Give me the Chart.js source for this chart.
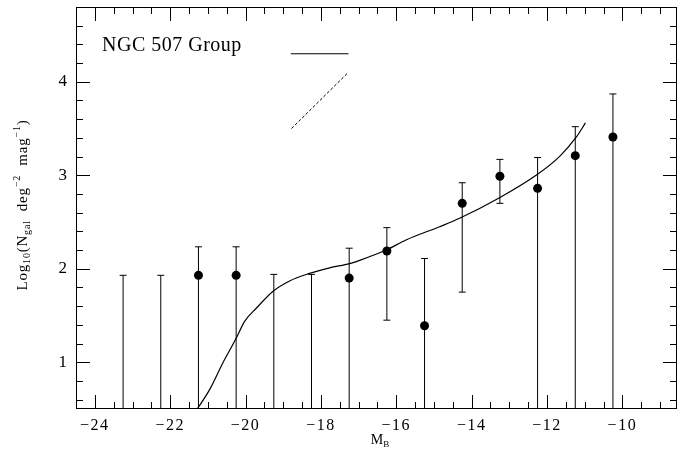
<!DOCTYPE html>
<html lang="en">
<head>
  <meta charset="UTF-8">
  <title>NGC 507 Group luminosity function</title>
  <script src="https://cdn.jsdelivr.net/npm/chart.js"></script>
  <style>
    html, body { margin: 0; padding: 0; background: #fff; }
    #lfChart { display: block; }
  </style>
</head>
<body>
  <canvas id="lfChart" width="677" height="450"></canvas>

  <script>
    // magnitude bins and measured log10 counts (null = no galaxies in the bin)
    const binCentres = [-23.25, -22.25, -21.25, -20.25, -19.25, -18.25, -17.25, -16.25, -15.25, -14.25, -13.25, -12.25, -11.25, -10.25];
    const logCounts  = [null, null, 1.93, 1.93, null, null, 1.90, 2.19, 1.39, 2.70, 2.99, 2.86, 3.21, 3.41];
    const errUpper   = [1.93, 1.93, 2.235, 2.235, 1.94, 1.94, 2.22, 2.44, 2.11, 2.92, 3.17, 3.19, 3.52, 3.87];
    // lower end of each bar; null = runs off the bottom of the plot
    const errLower   = [null, null, null, null, null, null, null, 1.45, null, 1.75, 2.70, null, null, null];

    // fitted luminosity function
    const fitMag = [-21.30, -20.95, -20.60, -20.27, -20.02, -19.71, -19.27, -18.83, -18.30, -17.77, -17.24, -16.97, -16.27, -15.73, -14.85, -14.32, -13.26, -12.29, -11.67, -11.22, -10.98];
    const fitLog = [0.49, 0.71, 0.995, 1.24, 1.44, 1.58, 1.76, 1.87, 1.95, 2.01, 2.055, 2.09, 2.20, 2.31, 2.45, 2.54, 2.76, 3.00, 3.20, 3.41, 3.56];

    // key lines in the upper left
    const solidKeyX  = [-18.80, -17.27];
    const solidKeyY  = [4.30, 4.30];
    const dashedKeyX = [-18.78, -17.30];
    const dashedKeyY = [3.50, 4.09];

    const xLabelTicks = [-24, -22, -20, -18, -16, -14, -12, -10];
    const yLabelTicks = [1, 2, 3, 4];
    const xRange = [-24.5, -8.55];
    const yRange = [0.5, 4.8];

    const SERIF = '"Liberation Serif", "DejaVu Serif", serif';

    const toPoints = (xs, ys) => xs.map((x, i) => ({ x: x, y: ys[i] }));
    const measured = binCentres.map((x, i) => ({ x: x, y: logCounts[i] })).filter(p => p.y !== null);

    // scales keep exact sizes, no extra room for edge labels
    function fixScale(s, size) {
      if (s.isHorizontal()) s.height = size; else s.width = size;
      s.paddingTop = s.paddingBottom = s.paddingLeft = s.paddingRight = 0;
    }

    // draws a run of [text, size, shift] pieces on one baseline
    function drawRich(ctx, runs, x, y, spacing) {
      let width = 0;
      runs.forEach(r => {
        ctx.font = r[1] + 'px ' + SERIF;
        ctx.letterSpacing = spacing + 'px';
        width += ctx.measureText(r[0]).width;
      });
      let cx = x - width / 2;
      runs.forEach(r => {
        ctx.font = r[1] + 'px ' + SERIF;
        ctx.letterSpacing = spacing + 'px';
        ctx.fillText(r[0], cx, y + r[2]);
        cx += ctx.measureText(r[0]).width;
      });
      ctx.letterSpacing = '0px';
    }

    const errorBars = {
      id: 'errorBars',
      beforeDatasetsDraw(chart) {
        const { ctx, chartArea, scales: { x, y } } = chart;
        ctx.save();
        ctx.beginPath();
        ctx.rect(chartArea.left, chartArea.top, chartArea.width, chartArea.height);
        ctx.clip();
        ctx.strokeStyle = '#000';
        ctx.lineWidth = 1;
        binCentres.forEach((m, i) => {
          const px = x.getPixelForValue(m);
          const top = y.getPixelForValue(errUpper[i]);
          const bottom = errLower[i] === null ? chartArea.bottom + 2 : y.getPixelForValue(errLower[i]);
          ctx.beginPath();
          ctx.moveTo(px, bottom);
          ctx.lineTo(px, top);
          ctx.moveTo(px - 3.5, top);
          ctx.lineTo(px + 3.5, top);
          if (errLower[i] !== null) {
            ctx.moveTo(px - 3.5, bottom);
            ctx.lineTo(px + 3.5, bottom);
          }
          ctx.stroke();
        });
        ctx.restore();
      }
    };

    const frame = {
      id: 'frame',
      afterDraw(chart) {
        const { ctx, chartArea: a, scales: { x, y } } = chart;
        ctx.save();
        ctx.strokeStyle = '#000';
        ctx.lineWidth = 1;
        ctx.strokeRect(a.left + 0.5, a.top + 0.5, a.width - 1, a.height - 1);

        ctx.beginPath();
        // x ticks every 0.5, long at even magnitudes
        for (let v = -24.5; v <= -8.5; v += 0.5) {
          const px = Math.round(x.getPixelForValue(v)) + 0.5;
          const len = Math.abs(v % 2) < 1e-6 ? 14 : 7;
          ctx.moveTo(px, a.bottom); ctx.lineTo(px, a.bottom - len);
          ctx.moveTo(px, a.top); ctx.lineTo(px, a.top + len);
        }
        // y ticks every 0.2, long at integers
        for (let k = 3; k <= 24; k++) {
          const v = k / 5;
          const py = Math.round(y.getPixelForValue(v)) + 0.5;
          const len = k % 5 === 0 ? 14 : 7;
          ctx.moveTo(a.left, py); ctx.lineTo(a.left + len, py);
          ctx.moveTo(a.right, py); ctx.lineTo(a.right - len, py);
        }
        ctx.stroke();

        ctx.fillStyle = '#000';
        ctx.textBaseline = 'alphabetic';
        ctx.textAlign = 'left';

        // magnitude labels under the axis
        xLabelTicks.forEach(v => {
          drawRich(ctx, [[String(v).replace('-', '\u2212'), 16, 0]], x.getPixelForValue(v), a.bottom + 21, 1.5);
        });

        // group name
        ctx.font = '20px ' + SERIF;
        ctx.letterSpacing = '0.5px';
        ctx.fillText('NGC 507 Group', 102, 51);
        ctx.letterSpacing = '0px';

        // x axis title
        drawRich(ctx, [['M', 14, 0], ['B', 9, 3]], 380, 444, 0);

        // y axis title
        ctx.save();
        ctx.translate(27, 205);
        ctx.rotate(-Math.PI / 2);
        drawRich(ctx, [
          ['Log', 15, 0], ['10', 10, 3], ['(N', 15, 0], ['gal', 10, 3],
          ['  deg', 15, 0], ['\u22122', 10, -7],
          ['  mag', 15, 0], ['\u22121', 10, -7], [')', 15, 0]
        ], 0, 0, 0.8);
        ctx.restore();
        ctx.restore();
      }
    };

    const chart = new Chart(document.getElementById('lfChart'), {
      type: 'scatter',
      data: {
        datasets: [
          {
            label: 'model',
            data: toPoints(fitMag, fitLog),
            showLine: true,
            borderColor: '#000',
            borderWidth: 1.2,
            pointRadius: 0,
            cubicInterpolationMode: 'monotone'
          },
          {
            label: 'counts',
            data: measured,
            showLine: false,
            pointRadius: 4.5,
            pointBackgroundColor: '#000',
            pointBorderColor: '#000',
            pointBorderWidth: 0
          },
          {
            label: 'solid',
            data: toPoints(solidKeyX, solidKeyY),
            showLine: true,
            borderColor: '#000',
            borderWidth: 1.2,
            pointRadius: 0
          },
          {
            label: 'dashed',
            data: toPoints(dashedKeyX, dashedKeyY),
            showLine: true,
            borderColor: '#000',
            borderWidth: 1,
            borderDash: [3, 2],
            pointRadius: 0
          }
        ]
      },
      options: {
        responsive: false,
        animation: false,
        layout: { autoPadding: false, padding: { top: 7, right: 0, left: 0, bottom: 0 } },
        plugins: {
          legend: { display: false },
          tooltip: { enabled: false }
        },
        scales: {
          x: {
            type: 'linear',
            min: xRange[0],
            max: xRange[1],
            grid: { display: false },
            border: { display: false },
            afterFit: s => fixScale(s, 41),
            ticks: { display: false }
          },
          y: {
            type: 'linear',
            min: yRange[0],
            max: yRange[1],
            grid: { display: false },
            border: { display: false },
            afterBuildTicks: s => { s.ticks = yLabelTicks.map(v => ({ value: v })); },
            afterFit: s => fixScale(s, 76),
            ticks: {
              padding: 1,
              color: '#000',
              autoSkip: false,
              font: { family: SERIF, size: 17 },
              callback: v => String(v)
            }
          }
        }
      },
      plugins: [errorBars, frame]
    });
  </script>
</body>
</html>
